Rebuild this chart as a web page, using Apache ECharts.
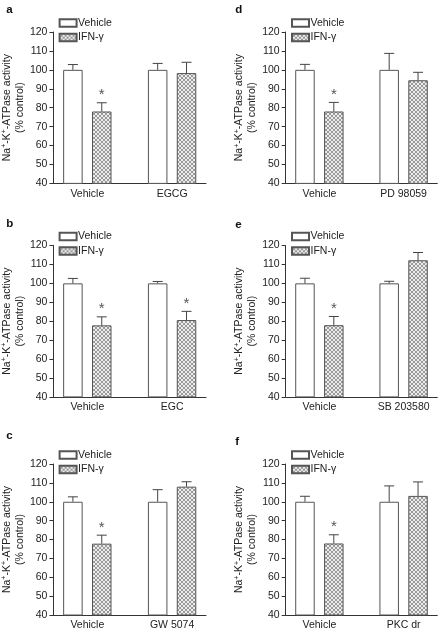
<!DOCTYPE html>
<html>
<head>
<meta charset="utf-8">
<script src="https://cdn.jsdelivr.net/npm/echarts@6/dist/echarts.min.js"></script>
<style>html,body{margin:0;padding:0;background:#fff}#c{width:438px;height:631px}</style>
</head>
<body>
<div id="c"></div>
<script>
// ---- data ----
const panelLetters = ['a', 'b', 'c', 'd', 'e', 'f'];
const treatments = ['EGCG', 'EGC', 'GW 5074', 'PD 98059', 'SB 203580', 'PKC dr'];
const seriesNames = ['Vehicle', 'IFN-\u03b3'];
// means [vehicle group, treatment group]
const vehicleMeans = [[100, 100], [100, 100], [100, 100], [100, 100], [100, 100], [100, 100]];
const vehicleSEM   = [[2.8, 3.4], [2.6, 1.0], [2.6, 6.4], [2.9, 8.7], [2.7, 1.1], [2.9, 8.4]];
const ifnMeans     = [[78.0, 98.3], [77.8, 80.6], [77.8, 108.0], [78.0, 94.5], [77.9, 112.2], [77.9, 103.1]];
const ifnSEM       = [[4.6, 5.7], [4.5, 4.6], [4.5, 2.6], [4.8, 4.2], [4.6, 4.1], [4.6, 7.4]];
const ifnSignificant = [[1, 0], [1, 1], [1, 0], [1, 0], [1, 0], [1, 0]];
const yTicks = { min: 40, max: 120, interval: 10 };

// ---- layout ----
const FONT = 'Liberation Sans, Arial, sans-serif';
const TXT = '#222';
const AX = '#333';
const colLeft = [53.3, 285.7];
const colWidth = [152.7, 151.6];
const rowTop = [32, 245.5, 464];
const rowHeight = 151.4;
const letterTop = [[4.3, 217.7, 430], [4.3, 219, 436]];
const BAR_W = 19.5;
const BAR_GAP = 0.48;

function makePattern() {
  const c = document.createElement('canvas');
  c.width = 4; c.height = 4;
  const g = c.getContext('2d');
  g.fillStyle = '#ececec'; g.fillRect(0, 0, 4, 4);
  g.fillStyle = '#9a9a9a';
  for (let i = 0; i < 4; i++) { g.fillRect(i, i, 1, 1); g.fillRect(3 - i, i, 1, 1); }
  return c;
}
const hatch = { image: makePattern(), repeat: 'repeat' };

const chart = echarts.init(document.getElementById('c'), null, { renderer: 'canvas' });
const grids = [], xAxes = [], yAxes = [], series = [], legends = [], titles = [];

panelLetters.forEach((letter, p) => {
  const col = p < 3 ? 0 : 1;
  const row = p % 3;
  const cats = ['Vehicle', treatments[p]];
  grids.push({ left: colLeft[col], top: rowTop[row], width: colWidth[col], height: rowHeight, containLabel: false });
  xAxes.push({
    gridIndex: p, type: 'value', min: -0.4, max: 1.4,
    axisLine: { show: true, onZero: false, lineStyle: { color: AX, width: 1 } },
    axisTick: { show: false }, splitLine: { show: false },
    axisLabel: { customValues: [0, 1], formatter: v => cats[Math.round(v)], margin: 5, fontSize: 10.5, fontFamily: FONT, color: TXT }
  });
  yAxes.push({
    gridIndex: p, type: 'value', min: yTicks.min, max: yTicks.max, interval: yTicks.interval,
    axisLine: { show: true, onZero: false, lineStyle: { color: AX, width: 1 } },
    axisTick: { show: true, length: 4, lineStyle: { color: AX } },
    splitLine: { show: false },
    axisLabel: { margin: 6, fontSize: 10.5, fontFamily: FONT, color: TXT },
    name: '{t|Na}{s|+}{t|-K}{s|+}{t|-ATPase activity}\n{t|(% control)}',
    nameLocation: 'middle', nameGap: 27, nameRotate: 90,
    nameTextStyle: {
      fontSize: 10.5, fontFamily: FONT, color: TXT, lineHeight: 12.5,
      rich: {
        t: { fontSize: 10.5, fontFamily: FONT, color: TXT, lineHeight: 12.5 },
        s: { fontSize: 7, fontFamily: FONT, color: TXT, lineHeight: 7, verticalAlign: 'top' }
      }
    }
  });
  const barCommon = { type: 'bar', xAxisIndex: p, yAxisIndex: p, barWidth: BAR_W, barGap: (BAR_GAP * 100) + '%', silent: true, animation: false };
  series.push(Object.assign({}, barCommon, {
    name: seriesNames[0],
    itemStyle: { color: '#ffffff', borderColor: '#555', borderWidth: 1 },
    data: vehicleMeans[p].map((v, i) => [i, v])
  }));
  series.push(Object.assign({}, barCommon, {
    name: seriesNames[1],
    itemStyle: { color: hatch, borderColor: '#555', borderWidth: 1 },
    data: ifnMeans[p].map((v, i) => [i, v])
  }));
  const errData = [];
  vehicleMeans[p].forEach((v, i) => errData.push([i, v, vehicleSEM[p][i], -1, 0]));
  ifnMeans[p].forEach((v, i) => errData.push([i, v, ifnSEM[p][i], 1, ifnSignificant[p][i]]));
  series.push({
    type: 'custom', xAxisIndex: p, yAxisIndex: p, silent: true, animation: false, z: 5,
    data: errData,
    renderItem: (params, api) => {
      const gi = api.value(0), m = api.value(1), s = api.value(2), side = api.value(3), sig = api.value(4);
      const base = api.coord([gi, m]);
      const top = api.coord([gi, m + s]);
      const x = base[0] + side * (BAR_W + BAR_W * BAR_GAP) / 2;
      const st = { stroke: '#444', lineWidth: 1 };
      const children = [
        { type: 'line', shape: { x1: x, y1: base[1], x2: x, y2: top[1] }, style: st },
        { type: 'line', shape: { x1: x - 5, y1: top[1], x2: x + 5, y2: top[1] }, style: st }
      ];
      if (sig) {
        children.push({ type: 'text', style: { text: '*', x: x, y: top[1] - 7.6, align: 'center', verticalAlign: 'middle', font: '15px ' + FONT, fill: '#555' } });
      }
      return { type: 'group', children };
    }
  });
  legends.push({
    data: seriesNames, orient: 'vertical', left: colLeft[col] + 5.3, top: rowTop[row] - 15.5,
    padding: 0, itemGap: 1.5, itemWidth: 17, itemHeight: 7.5, icon: 'rect', selectedMode: false,
    textStyle: { fontSize: 10.5, fontFamily: FONT, color: TXT, lineHeight: 13, padding: [0, 0, 0, -3.5] }
  });
  titles.push({ text: letter, left: col === 0 ? 6.2 : 235.2, top: letterTop[col][row], padding: 0,
    textStyle: { fontSize: 11.5, fontWeight: 'bold', fontFamily: FONT, color: '#111' } });
});

chart.setOption({
  animation: false,
  backgroundColor: '#ffffff',
  title: titles,
  legend: legends,
  grid: grids,
  xAxis: xAxes,
  yAxis: yAxes,
  series: series
});
</script>
</body>
</html>
